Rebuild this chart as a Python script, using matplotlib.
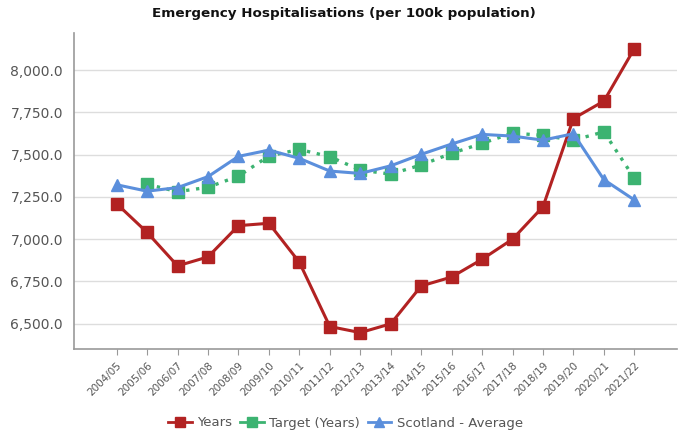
import matplotlib
matplotlib.use("Agg")
import matplotlib.pyplot as plt
from matplotlib.ticker import FuncFormatter, FixedLocator
from matplotlib.lines import Line2D

categories = ["2004/05", "2005/06", "2006/07", "2007/08", "2008/09", "2009/10",
              "2010/11", "2011/12", "2012/13", "2013/14", "2014/15", "2015/16",
              "2016/17", "2017/18", "2018/19", "2019/20", "2020/21", "2021/22"]
years = [7210, 7040, 6842, 6895, 7080, 7094, 6863, 6483, 6447, 6499,
         6723, 6776, 6881, 7000, 7192, 7714, 7817, 8128]
target = [None, 7325, 7281, 7307, 7373, 7492, 7531, 7488, 7409, 7385,
          7439, 7508, 7567, 7628, 7614, 7586, 7635, 7360]
scotland = [7322, 7284, 7305, 7370, 7490, 7527, 7478, 7403, 7389, 7434,
            7502, 7563, 7620, 7610, 7586, 7624, 7352, 7232]
yticks = [6500, 6750, 7000, 7250, 7500, 7750, 8000]

RED = "#b22222"
GREEN = "#3cb371"
BLUE = "#5b8fdc"

fig = plt.figure(figsize=(6.81, 4.34), dpi=100)
ax = fig.add_axes([74/681, 1-349/434, (677-74)/681, (349-33)/434])

x = list(range(len(categories)))
tx = [i for i, v in zip(x, target) if v is not None]
tv = [v for v in target if v is not None]

ax.plot(x, years, color=RED, lw=2.2, marker="s", ms=8, label="Years", zorder=3)
ax.plot(tx, tv, color=GREEN, lw=2.4, ls=(0, (1, 2.0)), marker="s", ms=8,
        label="Target (Years)", zorder=2)
ax.plot(x, scotland, color=BLUE, lw=2.2, marker="^", ms=9, label="Scotland - Average", zorder=4)

ax.set_xlim(-1.4, 18.4)
ax.set_ylim(6350, 8220)
ax.yaxis.set_major_locator(FixedLocator(yticks))
ax.yaxis.set_major_formatter(FuncFormatter(lambda v, p: f"{v:,.1f}"))
ax.set_xticks(x)
ax.set_xticklabels(categories, rotation=45, ha="right", rotation_mode="anchor",
                   fontsize=7.5, color="#555555")
ax.tick_params(axis="y", length=0, labelsize=10, colors="#555555", pad=8)
ax.tick_params(axis="x", length=4, color="#999999", pad=4)
ax.grid(axis="y", color="#dddddd", lw=1)
ax.set_axisbelow(True)
for s in ["top", "right"]:
    ax.spines[s].set_visible(False)
for s in ["left", "bottom"]:
    ax.spines[s].set_color("#999999")
    ax.spines[s].set_linewidth(1.2)

fig.suptitle("Emergency Hospitalisations (per 100k population)", x=0.505, y=0.985,
             fontsize=9.7, fontweight="bold", color="#111111")

handles = [Line2D([], [], color=RED, lw=2, marker="s", ms=7),
           Line2D([], [], color=GREEN, lw=2, marker="s", ms=7),
           Line2D([], [], color=BLUE, lw=2, marker="^", ms=7)]
fig.legend(handles, ["Years", "Target (Years)", "Scotland - Average"],
           loc="center", bbox_to_anchor=(0.507, 1-423/434), ncol=3, frameon=False,
           fontsize=9.5, handlelength=1.8, handletextpad=0.4, columnspacing=0.6,
           labelcolor="#555555")

fig.savefig("out.png", dpi=100)
